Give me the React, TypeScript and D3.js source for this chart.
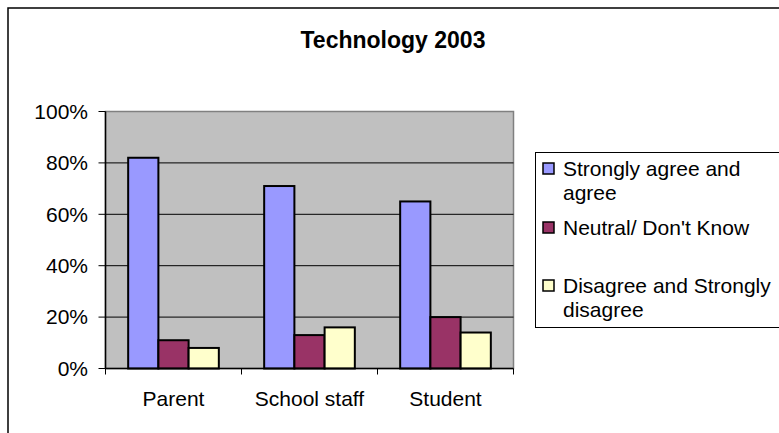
import React from "react";
import * as d3 from "d3";

const categories = ["Parent", "School staff", "Student"];
const seriesNames = ["Strongly agree and agree", "Neutral/ Don't Know", "Disagree and Strongly disagree"];
const agreeValues = [0.82, 0.71, 0.65];
const neutralValues = [0.11, 0.13, 0.20];
const disagreeValues = [0.08, 0.16, 0.14];
const yTicks = [0, 0.2, 0.4, 0.6, 0.8, 1.0];
const title = "Technology 2003";

const colors = ["#9999FF", "#993366", "#FFFFCC"];
const legendLines = [["Strongly agree and", "agree"], ["Neutral/ Don't Know"], ["Disagree and Strongly", "disagree"]];

export default function App() {
  const W = 779, H = 433;
  const plot = { left: 105.5, right: 513.5, top: 111.5, bottom: 368.5 };
  const font = "'Liberation Sans', Arial, sans-serif";
  const x0 = d3.scaleBand<string>().domain(categories).range([plot.left, plot.right]).padding(0);
  const x1 = d3.scaleBand<number>().domain([0, 1, 2]).range([0, x0.bandwidth()]).paddingInner(0).paddingOuter(0.75);
  const y = d3.scaleLinear().domain([0, 1]).range([plot.bottom, plot.top]);
  const series = [agreeValues, neutralValues, disagreeValues];
  const fmt = d3.format(".0%");

  const legendY = [176, 235, 293];

  return (
    <svg width={W} height={H} style={{ position: "absolute", left: 0, top: 0, background: "#fff" }} fontFamily={font}>
      <rect x={8} y={8} width={W + 10} height={H + 10} fill="#fff" stroke="#000" strokeWidth={1.5} />
      <text x={393} y={48} textAnchor="middle" fontSize={23} fontWeight="bold">{title}</text>
      <rect x={plot.left} y={plot.top} width={plot.right - plot.left} height={plot.bottom - plot.top} fill="#C0C0C0" stroke="#808080" strokeWidth={1.5} />
      {yTicks.map((t) => (
        <g key={t}>
          {t > 0 && t < 1 && <line x1={plot.left} x2={plot.right} y1={y(t)} y2={y(t)} stroke="#000" strokeWidth={1} />}
          <line x1={plot.left - 7} x2={plot.left} y1={y(t)} y2={y(t)} stroke="#000" strokeWidth={1} />
          <text x={88} y={y(t)} dy="0.35em" textAnchor="end" fontSize={21}>{fmt(t)}</text>
        </g>
      ))}
      {categories.map((c, i) => (
        <g key={c}>
          {series.map((vals, s) => (
            <rect key={s} x={(x0(c) as number) + (x1(s) as number)} y={y(vals[i])} width={x1.bandwidth()} height={plot.bottom - y(vals[i])} fill={colors[s]} stroke="#000" strokeWidth={2} />
          ))}
          <text x={(x0(c) as number) + x0.bandwidth() / 2} y={406} textAnchor="middle" fontSize={21}>{c}</text>
        </g>
      ))}
      <line x1={plot.left} x2={plot.left} y1={plot.top} y2={plot.bottom} stroke="#000" strokeWidth={1.5} />
      <line x1={plot.left} x2={plot.right} y1={plot.bottom} y2={plot.bottom} stroke="#000" strokeWidth={1.5} />
      {[0, 1, 2, 3].map((k) => {
        const xx = plot.left + k * x0.step();
        return <line key={k} x1={xx} x2={xx} y1={plot.bottom} y2={plot.bottom + 6} stroke="#000" strokeWidth={1} />;
      })}
      <rect x={535.5} y={152.5} width={260} height={175} fill="#fff" stroke="#000" strokeWidth={1} />
      {seriesNames.map((n, s) => (
        <g key={n}>
          <rect x={543} y={legendY[s] - 13} width={11} height={11} fill={colors[s]} stroke="#000" strokeWidth={1.5} />
          <text x={563} y={legendY[s]} fontSize={21}>
            {legendLines[s].map((ln, j) => (
              <tspan key={j} x={563} dy={j === 0 ? 0 : 24}>{ln}</tspan>
            ))}
          </text>
        </g>
      ))}
    </svg>
  );
}
